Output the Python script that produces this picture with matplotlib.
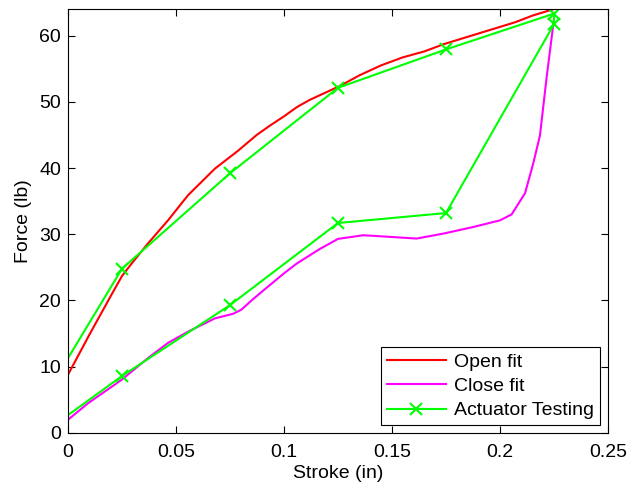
"""
Actuator force vs stroke: open/close fits against test points.
"""

import matplotlib
matplotlib.use("Agg")
import matplotlib.pyplot as plt

plt.rcParams["font.family"] = ["Liberation Sans", "DejaVu Sans"]

# Open fit (red)
open_x = [0, 0.01, 0.02, 0.025, 0.03, 0.037, 0.0463, 0.0556, 0.068, 0.0787,
          0.0874, 0.0935, 0.1, 0.106, 0.112, 0.1167, 0.126, 0.135, 0.145,
          0.155, 0.165, 0.174, 0.19, 0.207, 0.215, 0.225]
open_y = [8.8, 14.9, 20.8, 23.7, 25.8, 28.6, 32.1, 35.9, 39.9, 42.6,
          45.0, 46.4, 47.8, 49.2, 50.3, 51.0, 52.4, 54.0, 55.5,
          56.7, 57.6, 58.7, 60.3, 62.0, 63.0, 64.0]

# Close fit (magenta)
close_x = [0, 0.0093, 0.0247, 0.037, 0.0463, 0.0556, 0.068, 0.0765, 0.0802,
           0.086, 0.0926, 0.1, 0.106, 0.1167, 0.125, 0.1367, 0.1444, 0.1614,
           0.1738, 0.1877, 0.2, 0.2054, 0.2116, 0.2154, 0.2185, 0.2216, 0.225]
close_y = [2.0, 4.5, 8.0, 11.3, 13.6, 15.3, 17.3, 18.0, 18.6,
           20.3, 22.1, 24.1, 25.6, 27.8, 29.3, 29.85, 29.7, 29.35,
           30.1, 31.1, 32.1, 33.0, 36.2, 40.7, 44.9, 53.7, 62.5]

# Actuator testing (green), loading then unloading
test_x = [0, 0.025, 0.075, 0.125, 0.175, 0.225, 0.225, 0.175, 0.125, 0.075, 0.025, 0]
test_y = [11.3, 24.8, 39.2, 52.1, 57.9, 63.3, 61.7, 33.2, 31.7, 19.3, 8.6, 2.7]

fig = plt.figure(figsize=(6.32, 4.87), dpi=100)
ax = fig.add_axes([0.1076, 0.1109, 0.8544, 0.8706])

ax.plot(open_x, open_y, color="#ff0000", lw=1.5, label="Open fit")
ax.plot(close_x, close_y, color="#ff00ff", lw=1.5, label="Close fit")
ax.plot(test_x, test_y, color="#00ff00", lw=1.5, marker="x", ms=9, mew=1.5,
        markevery=list(range(1, len(test_x) - 1)), label="Actuator Testing")

ax.set_xlim(0, 0.25)
ax.set_ylim(0, 64)
ax.set_xticks([0, 0.05, 0.1, 0.15, 0.2, 0.25])
ax.set_xticklabels(["0", "0.05", "0.1", "0.15", "0.2", "0.25"])
ax.set_yticks([0, 10, 20, 30, 40, 50, 60])
ax.tick_params(direction="in", top=True, right=True, length=5, labelsize=14)
ax.tick_params(axis="x", pad=8)
ax.tick_params(axis="y", pad=5)
for s in ax.spines.values():
    s.set_linewidth(0.8)

ax.set_xlabel("Stroke (in)", fontsize=14, labelpad=3)
ax.set_ylabel("Force (lb)", fontsize=14, labelpad=5)

leg = ax.legend(loc="lower right", fontsize=14, fancybox=False, framealpha=1,
                edgecolor="black", borderaxespad=0.4, handlelength=3.0,
                labelspacing=0.35, borderpad=0.3, handletextpad=0.45)
leg.get_frame().set_linewidth(0.8)

plt.savefig("out.png")
